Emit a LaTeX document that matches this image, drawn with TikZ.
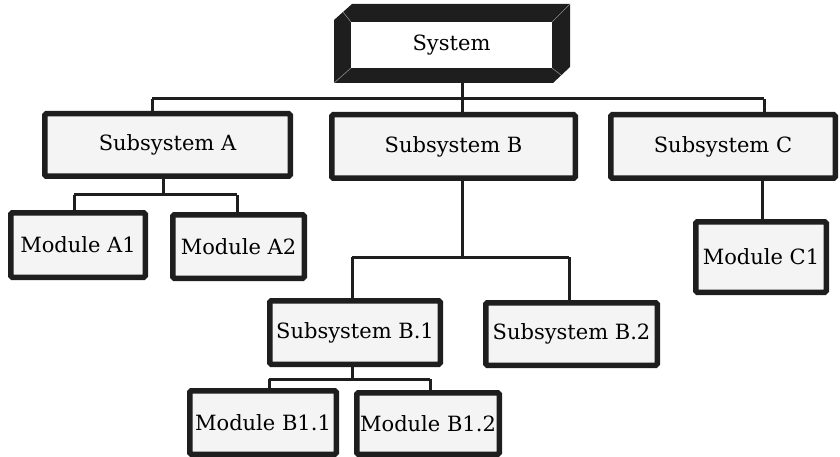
\documentclass[tikz,border=0pt]{standalone}
\usepackage{fontspec}
\setmainfont{DejaVu Serif}
\usetikzlibrary{calc}
\definecolor{ink}{HTML}{1E1E1E}
\definecolor{boxfill}{HTML}{F4F4F4}
\definecolor{bevel}{HTML}{8A8A8A}
\begin{document}
\begin{tikzpicture}[x=1pt,y=-1pt,
  unit/.style={draw=ink, line width=5.5pt, fill=boxfill, rounded corners=1.5pt,
    inner sep=0pt, font=\fontsize{21}{24}\selectfont},
  link/.style={draw=ink, line width=3pt},
  label/.style={inner sep=0pt, font=\fontsize{21}{24}\selectfont}]
\useasboundingbox (0,0) rectangle (840,457);

% top-level bevelled frame
\fill[ink] (352,4) -- (570,4) -- (570,67) -- (553,83) -- (334,83) -- (334,20) -- cycle;
\fill[white] (351,22) rectangle (552,68);
\draw[bevel, line width=0.6pt] (343,12) -- (351,22)
  (570,4) -- (552,22) (561,75) -- (552,68) (334,83) -- (351,68);
\node[label] (sys) at (451.5,45) {System};

% junction points of the connectors
\coordinate (sysfoot) at (462,83);
\coordinate (busL) at (152,99);
\coordinate (busR) at (764,99);
\coordinate (aJ) at (163,195);
\coordinate (aL) at (74,195);
\coordinate (aR) at (237,195);
\coordinate (bJ) at (462,257);
\coordinate (bL) at (352,257);
\coordinate (bR) at (569,257);
\coordinate (bbJ) at (352,379);
\coordinate (bbL) at (269,379);
\coordinate (bbR) at (430,379);
\coordinate (cJ) at (762,181);

% boxes
\node[unit, minimum width=245.5pt, minimum height=62.5pt] (subA) at (167.5,145) {Subsystem A};
\node[unit, minimum width=243.5pt, minimum height=63.5pt] (subB) at (453.5,146.5) {Subsystem B};
\node[unit, minimum width=224.5pt, minimum height=63.5pt] (subC) at (723,146.5) {Subsystem C};
\node[unit, minimum width=134.5pt, minimum height=64.5pt] (modA1) at (78,245) {Module A1};
\node[unit, minimum width=131.5pt, minimum height=63.5pt] (modA2) at (238.5,246.5) {Module A2};
\node[unit, minimum width=130.5pt, minimum height=70.5pt] (modC1) at (761,257) {Module C1};
\node[unit, minimum width=170.5pt, minimum height=63.5pt] (subB1) at (355,332.5) {Subsystem B.1};
\node[unit, minimum width=171.5pt, minimum height=62.5pt] (subB2) at (571.5,334) {Subsystem B.2};
\node[unit, minimum width=146.5pt, minimum height=63.5pt] (modB11) at (263,422.5) {Module B1.1};
\node[unit, minimum width=142.5pt, minimum height=61.5pt] (modB12) at (428,423.5) {Module B1.2};

% connectors
\begin{scope}[on background layer/.style={}]
\draw[link] (sysfoot) -- (sysfoot |- subB.north);
\draw[link] (busL) -- (busR);
\draw[link] (busL) -- (busL |- subA.north);
\draw[link] (busR) -- (busR |- subC.north);
\draw[link] (aJ |- subA.south) -- (aJ);
\draw[link] (aL) -- (aR);
\draw[link] (aL) -- (aL |- modA1.north);
\draw[link] (aR) -- (aR |- modA2.north);
\draw[link] (bJ |- subB.south) -- (bJ);
\draw[link] (bL) -- (bR);
\draw[link] (bL) -- (bL |- subB1.north);
\draw[link] (bR) -- (bR |- subB2.north);
\draw[link] (bbJ |- subB1.south) -- (bbJ);
\draw[link] (bbL) -- (bbR);
\draw[link] (bbL) -- (bbL |- modB11.north);
\draw[link] (bbR) -- (bbR |- modB12.north);
\draw[link] (cJ |- subC.south) -- (cJ |- modC1.north);
\end{scope}
\end{tikzpicture}
\end{document}
